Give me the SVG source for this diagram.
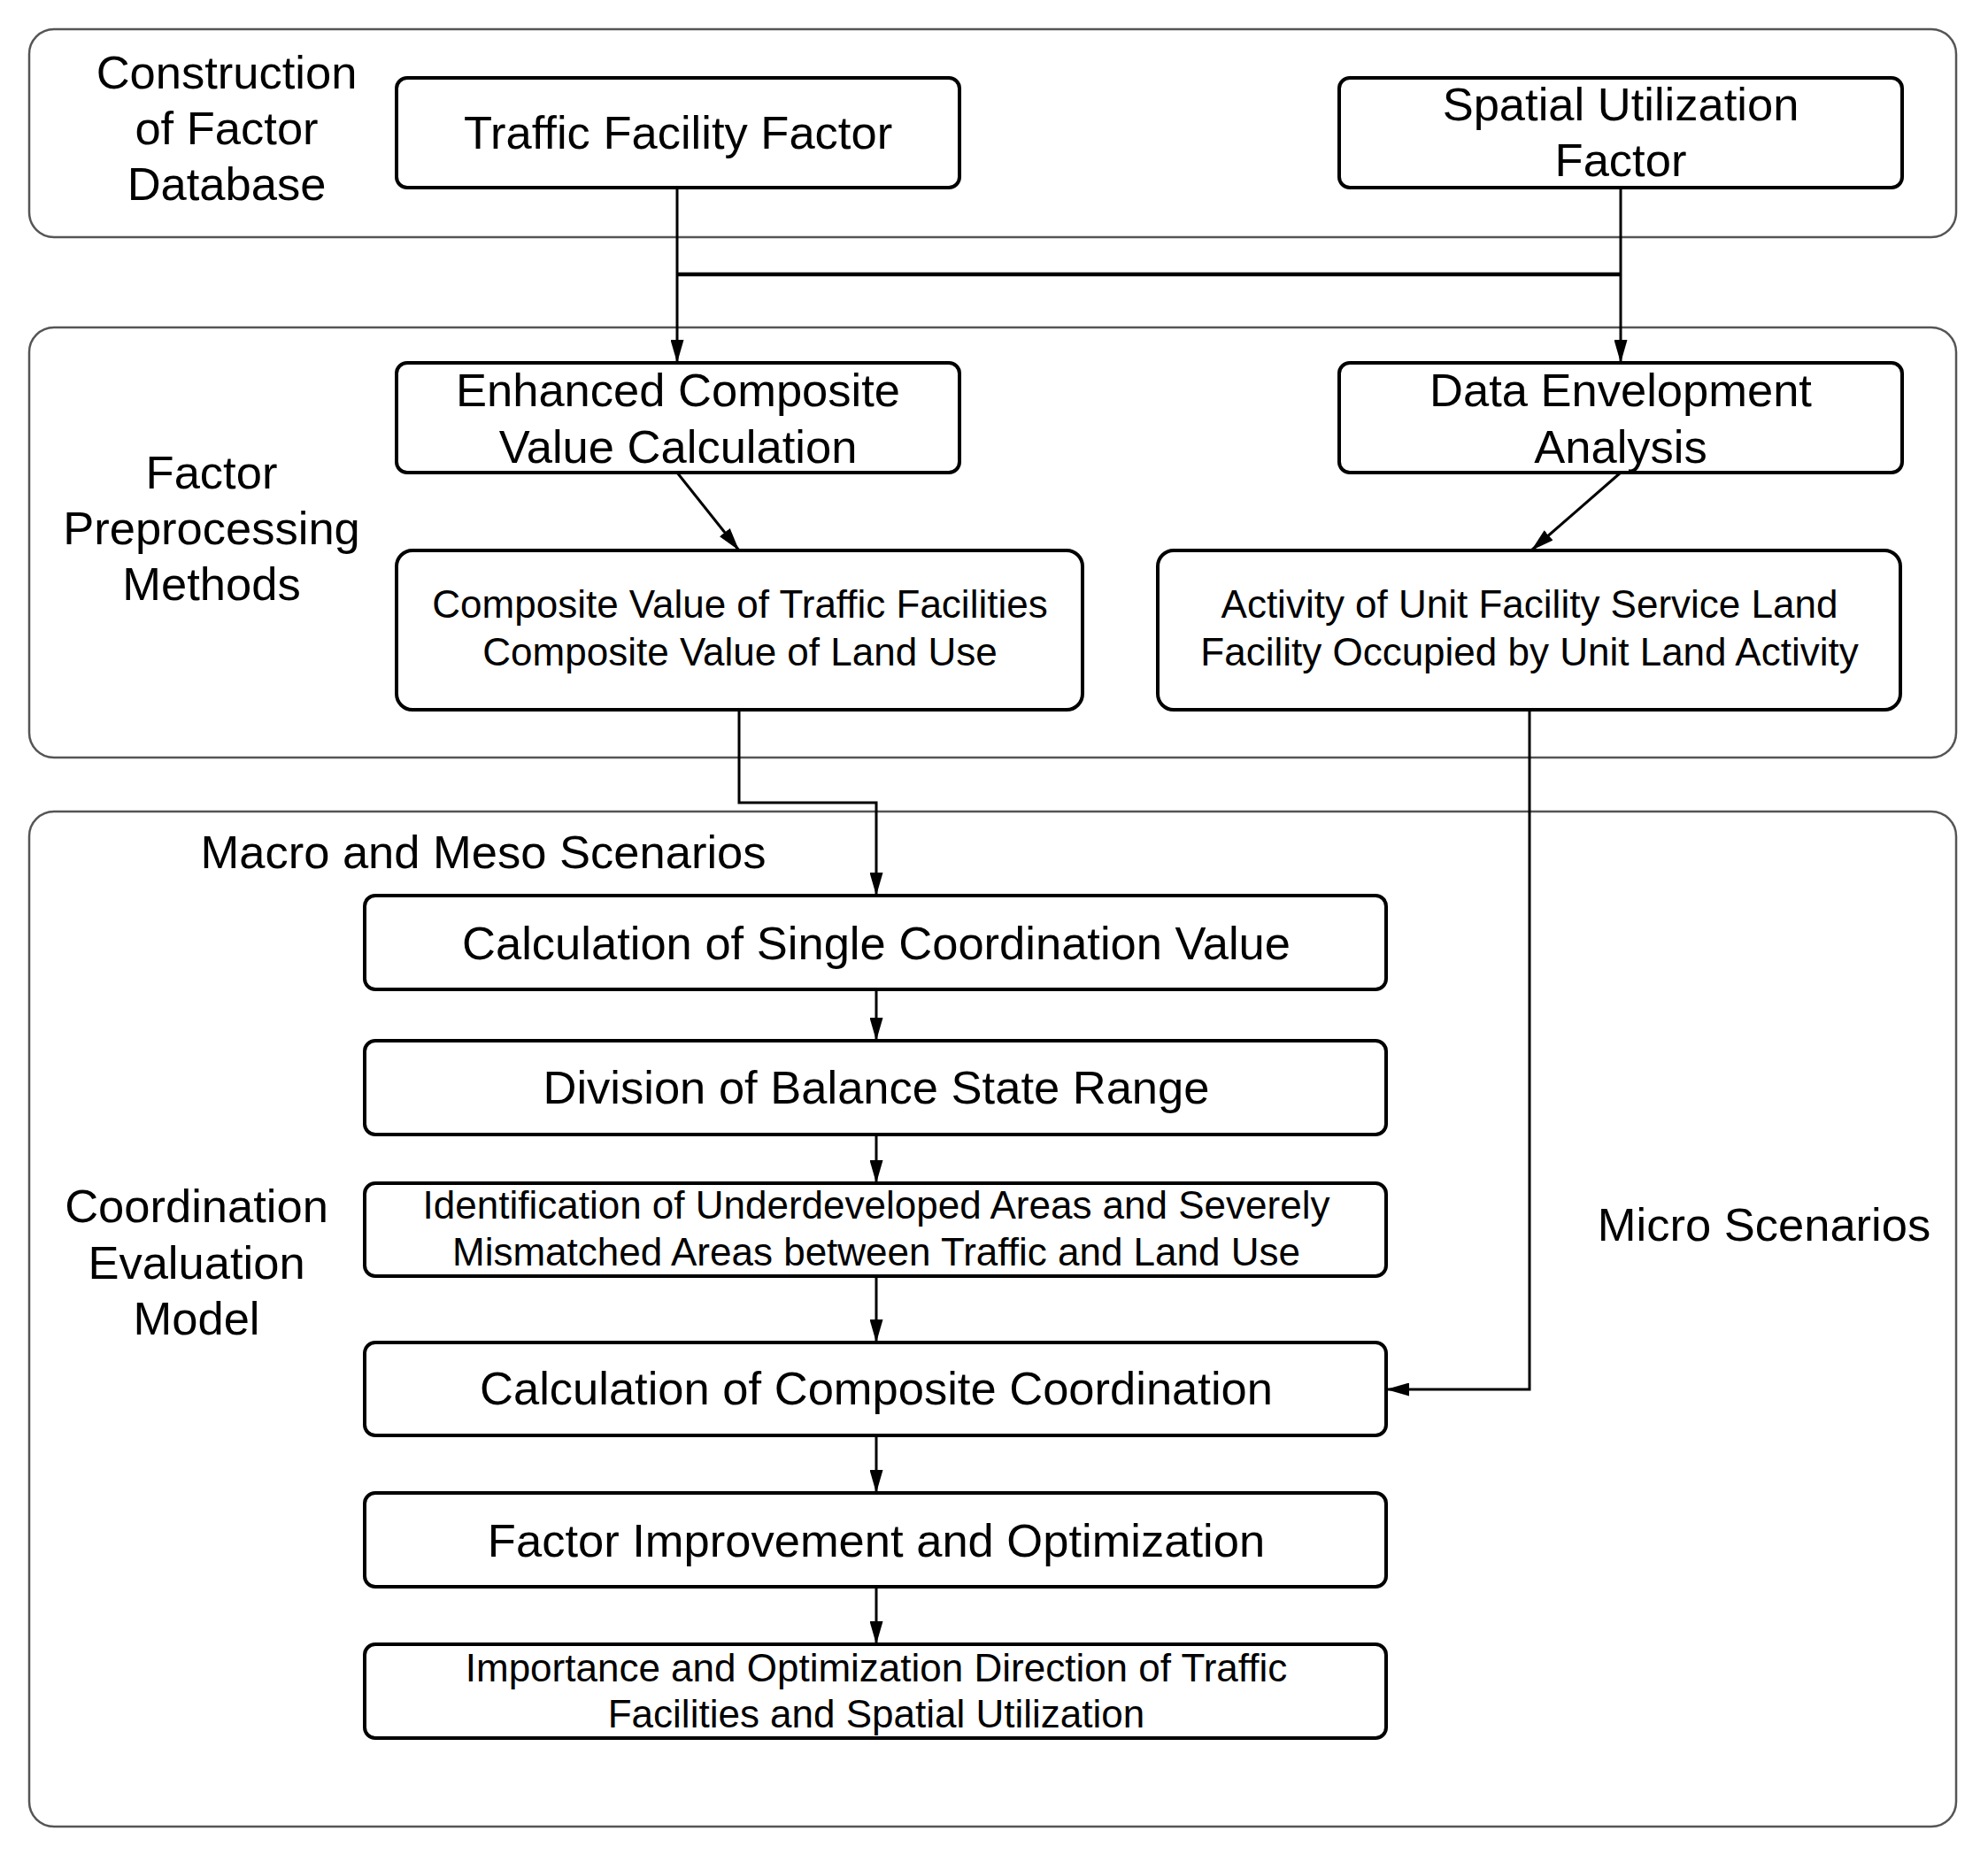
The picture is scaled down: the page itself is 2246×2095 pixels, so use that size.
<svg xmlns="http://www.w3.org/2000/svg" width="2246" height="2095" viewBox="0 0 2246 2095">
<defs>
<marker id="arr" markerUnits="userSpaceOnUse" markerWidth="26" markerHeight="15" refX="26" refY="7.5" orient="auto">
<path d="M0,0 L26,7.5 L0,15 Z" fill="#000"/>
</marker>
<style>
.panel{fill:none;stroke:#555;stroke-width:2.5}
.node{fill:#fff;stroke:#000;stroke-width:4}
.t{font-family:"Liberation Sans",Arial,sans-serif;fill:#000;text-anchor:middle}
.L{font-size:52.5px}
.S{font-size:44px}
.c{fill:none;stroke:#000;stroke-width:3}
</style>
</defs>
<rect width="2246" height="2095" fill="#fff"/>
<g id="panels">
<rect class="panel" x="33" y="33" width="2177" height="235" rx="28"/>
<rect class="panel" x="33" y="370" width="2177" height="486" rx="28"/>
<rect class="panel" x="33" y="917" width="2177" height="1147" rx="28"/>
<text class="t L" x="256" y="100">Construction</text>
<text class="t L" x="256" y="163">of Factor</text>
<text class="t L" x="256" y="226">Database</text>
<text class="t L" x="239" y="552">Factor</text>
<text class="t L" x="239" y="615">Preprocessing</text>
<text class="t L" x="239" y="678">Methods</text>
<text class="t L" x="546" y="981">Macro and Meso Scenarios</text>
<text class="t L" x="222" y="1381">Coordination</text>
<text class="t L" x="222" y="1445">Evaluation</text>
<text class="t L" x="222" y="1508">Model</text>
<text class="t L" x="1993" y="1402">Micro Scenarios</text>
</g>
<g id="connectors">
<line class="c" x1="765" y1="310" x2="1831" y2="310" style="stroke-width:4.5"/>
<line class="c" x1="765" y1="212" x2="765" y2="410" marker-end="url(#arr)"/>
<line class="c" x1="1831" y1="212" x2="1831" y2="410" marker-end="url(#arr)"/>
<line class="c" x1="765" y1="534" x2="835" y2="622" marker-end="url(#arr)"/>
<line class="c" x1="1831" y1="534" x2="1730" y2="622" marker-end="url(#arr)"/>
<polyline class="c" points="835,802 835,907 990,907 990,1012" marker-end="url(#arr)"/>
<polyline class="c" points="1728,802 1728,1570 1566,1570" marker-end="url(#arr)"/>
<line class="c" x1="990" y1="1118" x2="990" y2="1176" marker-end="url(#arr)"/>
<line class="c" x1="990" y1="1282" x2="990" y2="1337" marker-end="url(#arr)"/>
<line class="c" x1="990" y1="1442" x2="990" y2="1517" marker-end="url(#arr)"/>
<line class="c" x1="990" y1="1622" x2="990" y2="1687" marker-end="url(#arr)"/>
<line class="c" x1="990" y1="1793" x2="990" y2="1858" marker-end="url(#arr)"/>
</g>
<g id="n-traffic">
<rect class="node" x="448" y="88" width="636" height="124" rx="12"/>
<text class="t L" x="766" y="168">Traffic Facility Factor</text>
</g>
<g id="n-spatial">
<rect class="node" x="1513" y="88" width="636" height="124" rx="12"/>
<text class="t L" x="1831" y="136">Spatial Utilization</text>
<text class="t L" x="1831" y="199">Factor</text>
</g>
<g id="n-enhanced">
<rect class="node" x="448" y="410" width="636" height="124" rx="12"/>
<text class="t L" x="766" y="459">Enhanced Composite</text>
<text class="t L" x="766" y="523">Value Calculation</text>
</g>
<g id="n-dea">
<rect class="node" x="1513" y="410" width="636" height="124" rx="12"/>
<text class="t L" x="1831" y="459">Data Envelopment</text>
<text class="t L" x="1831" y="523">Analysis</text>
</g>
<g id="n-composite">
<rect class="node" x="448" y="622" width="775" height="180" rx="18"/>
<text class="t S" x="836" y="698">Composite Value of Traffic Facilities</text>
<text class="t S" x="836" y="752">Composite Value of Land Use</text>
</g>
<g id="n-activity">
<rect class="node" x="1308" y="622" width="839" height="180" rx="18"/>
<text class="t S" x="1728" y="698">Activity of Unit Facility Service Land</text>
<text class="t S" x="1728" y="752">Facility Occupied by Unit Land Activity</text>
</g>
<g id="n-single">
<rect class="node" x="412" y="1012" width="1154" height="106" rx="12"/>
<text class="t L" x="990" y="1084">Calculation of Single Coordination Value</text>
</g>
<g id="n-division">
<rect class="node" x="412" y="1176" width="1154" height="106" rx="12"/>
<text class="t L" x="990" y="1247">Division of Balance State Range</text>
</g>
<g id="n-identification">
<rect class="node" x="412" y="1337" width="1154" height="105" rx="12"/>
<text class="t S" x="990" y="1377">Identification of Underdeveloped Areas and Severely</text>
<text class="t S" x="990" y="1430">Mismatched Areas between Traffic and Land Use</text>
</g>
<g id="n-compcoord">
<rect class="node" x="412" y="1517" width="1154" height="105" rx="12"/>
<text class="t L" x="990" y="1587">Calculation of Composite Coordination</text>
</g>
<g id="n-factor">
<rect class="node" x="412" y="1687" width="1154" height="106" rx="12"/>
<text class="t L" x="990" y="1759">Factor Improvement and Optimization</text>
</g>
<g id="n-importance">
<rect class="node" x="412" y="1858" width="1154" height="106" rx="12"/>
<text class="t S" x="990" y="1900">Importance and Optimization Direction of Traffic</text>
<text class="t S" x="990" y="1952">Facilities and Spatial Utilization</text>
</g>
</svg>
